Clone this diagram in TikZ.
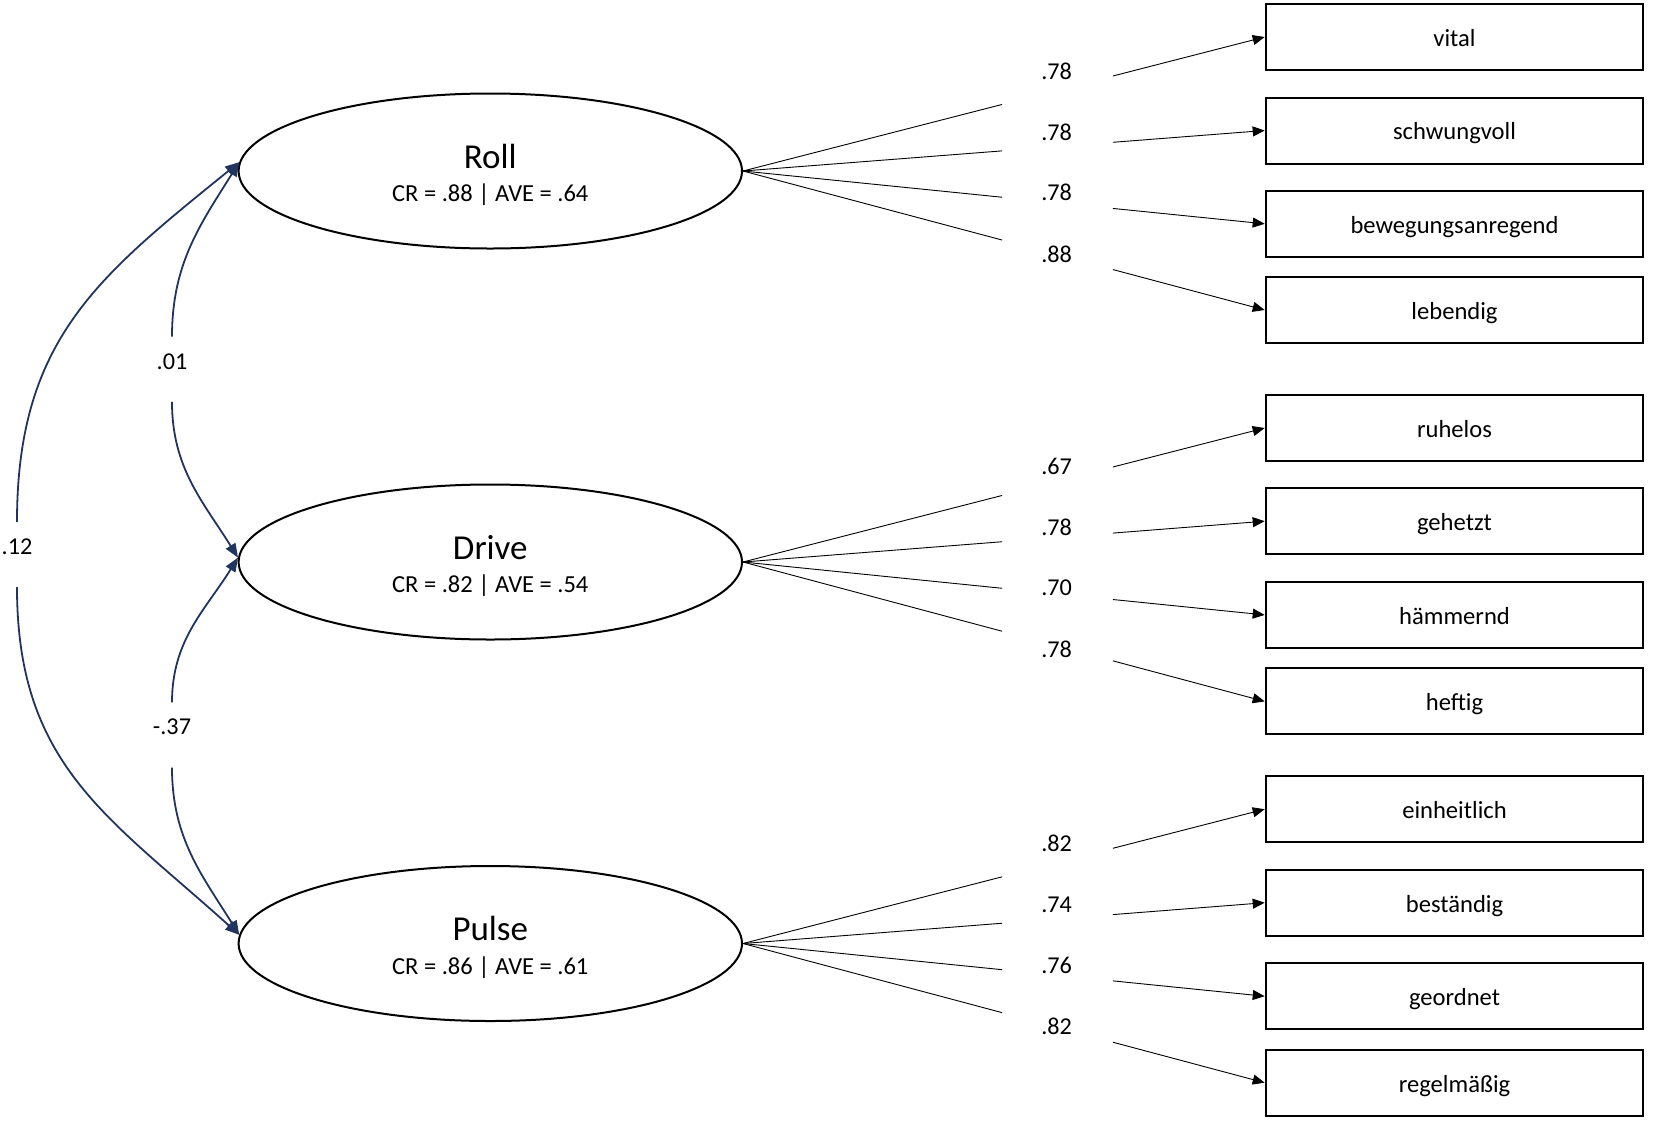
\documentclass[tikz,border=0pt]{standalone}
\usepackage{fontspec}
\setmainfont{Carlito}
\usetikzlibrary{arrows.meta,shapes.geometric}
\definecolor{navy}{RGB}{32,52,96}
\tikzset{
  latent/.style={draw=black, line width=2pt, ellipse, minimum width=503.4pt, minimum height=155pt, inner sep=0pt},
  indic/.style={draw=black, line width=2pt, rectangle, minimum width=377.6pt, minimum height=66pt, inner sep=0pt,
    font=\fontsize{24.6}{29}\selectfont, text height=24.6pt, text depth=6pt},
  lname/.style={anchor=base, inner sep=0pt, font=\fontsize{35}{40}\selectfont},
  lstat/.style={anchor=base, inner sep=0pt, font=\fontsize{24.5}{29}\selectfont},
  loadlab/.style={inner sep=0pt, font=\fontsize{24.2}{29}\selectfont},
  loading/.style={line width=0.9pt, black},
  loadarrow/.style={line width=0.9pt, black, -{Triangle[length=12pt,width=10pt]}},
  covlab/.style={inner sep=0pt, minimum height=65pt, minimum width=30pt, font=\fontsize{24.2}{29}\selectfont, text depth=16pt},
  covarrow/.style={line width=1.8pt, navy, -{Triangle[length=14pt,width=11pt]}}
}
\begin{document}
\begin{tikzpicture}
\useasboundingbox (0,0) rectangle (1654pt,-1120pt);
\begin{scope}[x=1pt,y=1pt]
% latent variables
\node[latent] (Roll)  at (490.3,-171) {};
\node[latent] (Drive) at (490.3,-562) {};
\node[latent] (Pulse) at (490.3,-943.5) {};
\node[lname] (RollN)  at (490.3,-168.3) {Roll};
\node[lstat] (RollS)  at (490.3,-201.7) {CR = .88 | AVE = .64};
\node[lname] (DriveN) at (490.3,-559.3) {Drive};
\node[lstat] (DriveS) at (490.3,-592.7) {CR = .82 | AVE = .54};
\node[lname] (PulseN) at (490.3,-940.8) {Pulse};
\node[lstat] (PulseS) at (490.3,-974.2) {CR = .86 | AVE = .61};

% indicators
\node[indic] (i1)  at (1454.5,-37)    {vital};
\node[indic] (i2)  at (1454.5,-130.5) {schwungvoll};
\node[indic] (i3)  at (1454.5,-223.8) {bewegungsanregend};
\node[indic] (i4)  at (1454.5,-310)   {lebendig};
\node[indic] (i5)  at (1454.5,-428)   {ruhelos};
\node[indic] (i6)  at (1454.5,-521.2) {gehetzt};
\node[indic] (i7)  at (1454.5,-614.9) {hämmernd};
\node[indic] (i8)  at (1454.5,-701.4) {heftig};
\node[indic] (i9)  at (1454.5,-809.2) {einheitlich};
\node[indic] (i10) at (1454.5,-902.7) {beständig};
\node[indic] (i11) at (1454.5,-996.2) {geordnet};
\node[indic] (i12) at (1454.5,-1082.7) {regelmäßig};

% loadings
\foreach \lat/\ind in {Roll/i1,Roll/i2,Roll/i3,Roll/i4,Drive/i5,Drive/i6,Drive/i7,Drive/i8,Pulse/i9,Pulse/i10,Pulse/i11,Pulse/i12}{
  \path (\lat.east) -- (\ind.west) coordinate[pos=0.4966] (ga\ind) coordinate[pos=0.709] (gb\ind);
  \draw[loading] (\lat.east) -- (ga\ind);
  \draw[loadarrow] (gb\ind) -- (\ind.west);
}
\node[loadlab] (l1)  at (1056.6,-71.7)  {.78};
\node[loadlab] (l2)  at (1056.6,-132.7) {.78};
\node[loadlab] (l3)  at (1056.6,-192.7) {.78};
\node[loadlab] (l4)  at (1056.6,-254.3) {.88};
\node[loadlab] (l5)  at (1056.6,-466.7) {.67};
\node[loadlab] (l6)  at (1056.6,-527.7) {.78};
\node[loadlab] (l7)  at (1056.6,-587.3) {.70};
\node[loadlab] (l8)  at (1056.6,-649.3) {.78};
\node[loadlab] (l9)  at (1056.6,-843.3) {.82};
\node[loadlab] (l10) at (1056.6,-905)   {.74};
\node[loadlab] (l11) at (1056.6,-965)   {.76};
\node[loadlab] (l12) at (1056.6,-1026.7) {.82};

% covariances
\node[covlab] (c01) at (172,-369.2) {.01};
\node[covlab] (c37) at (172,-735)   {-.37};
\node[covlab] (c12) at (17,-554.5)  {.12};
\draw[covarrow] (c01.north) to[out=90,in=238] (Roll.178);
\draw[covarrow] (c01.south) to[out=270,in=122] (Drive.179);
\draw[covarrow] (c37.north) to[out=90,in=238] (Drive.179);
\draw[covarrow] (c37.south) to[out=270,in=122] (Pulse.178);
\draw[covarrow] (c12.north) to[out=90,in=219,looseness=1.1] (Roll.178);
\draw[covarrow] (c12.south) to[out=270,in=138,looseness=1.1] (Pulse.178);
\end{scope}
\end{tikzpicture}
\end{document}
